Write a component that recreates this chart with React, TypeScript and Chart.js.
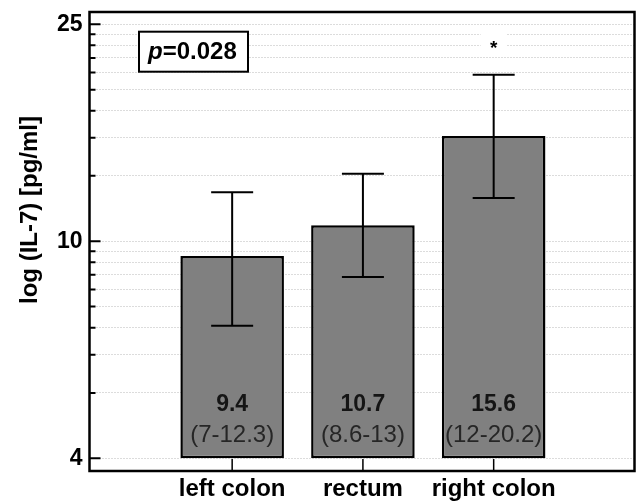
import React, { useEffect, useRef } from "react";
import { Chart, registerables } from "chart.js";

Chart.register(...registerables);

const categories = ["left colon", "rectum", "right colon"];
const medians = [9.4, 10.7, 15.6];
const lowerBounds = [7, 8.6, 12];
const upperBounds = [12.3, 13.3, 20.2];
const rangeLabels = ["(7-12.3)", "(8.6-13)", "(12-20.2)"];
const barBase = 4;
const yMajorTicks = [4, 10, 25];
const yMinorTicks = [5.27, 6.19, 6.94, 7.59, 8.16, 8.68, 9.15, 9.59, 13.18, 15.48, 17.36, 18.97, 20.4, 21.69, 22.88, 23.98];
const yAxisTitle = "log (IL-7) [pg/ml]";
const pValueText = "=0.028";
const significantIndex = 2;

const FONT = '"Liberation Sans", Arial, sans-serif';

const overlayPlugin = {
  id: "overlay",
  afterDatasetsDraw(chart: any) {
    const ctx = chart.ctx;
    const ys = chart.scales.y;
    const meta = chart.getDatasetMeta(0);
    ctx.save();
    // error bars
    ctx.strokeStyle = "#000";
    ctx.lineWidth = 2;
    meta.data.forEach((bar: any, i: number) => {
      const x = bar.x;
      const yl = ys.getPixelForValue(lowerBounds[i]);
      const yh = ys.getPixelForValue(upperBounds[i]);
      ctx.beginPath();
      ctx.moveTo(x, yl);
      ctx.lineTo(x, yh);
      ctx.moveTo(x - 21, yh);
      ctx.lineTo(x + 21, yh);
      ctx.moveTo(x - 21, yl);
      ctx.lineTo(x + 21, yl);
      ctx.stroke();
    });
    // bar labels
    const baseY = ys.getPixelForValue(barBase);
    ctx.textAlign = "center";
    ctx.textBaseline = "alphabetic";
    meta.data.forEach((bar: any, i: number) => {
      ctx.fillStyle = "#151515";
      ctx.font = `bold 23px ${FONT}`;
      ctx.fillText(String(medians[i]), bar.x, baseY - 47);
      ctx.fillStyle = "#262626";
      ctx.font = `24px ${FONT}`;
      ctx.fillText(rangeLabels[i], bar.x, baseY - 16);
    });
    ctx.restore();
  },
  afterDraw(chart: any) {
    const ctx = chart.ctx;
    const { left, right, top, bottom } = chart.chartArea;
    const ys = chart.scales.y;
    const xs = chart.scales.x;
    ctx.save();
    // frame
    ctx.strokeStyle = "#000";
    ctx.lineWidth = 2.5;
    ctx.strokeRect(left, top, right - left, bottom - top);
    // y ticks (inward)
    ctx.lineWidth = 2;
    ctx.beginPath();
    yMajorTicks.forEach((v) => {
      const y = ys.getPixelForValue(v);
      ctx.moveTo(left, y);
      ctx.lineTo(left + 11, y);
    });
    yMinorTicks.forEach((v) => {
      const y = ys.getPixelForValue(v);
      ctx.moveTo(left, y);
      ctx.lineTo(left + 6, y);
    });
    ctx.stroke();
    // x ticks (inward)
    ctx.lineWidth = 1.5;
    ctx.beginPath();
    categories.forEach((_, i) => {
      const x = xs.getPixelForValue(i);
      ctx.moveTo(x, bottom);
      ctx.lineTo(x, bottom - 12);
    });
    ctx.stroke();
    // y title
    ctx.save();
    ctx.translate(30, 210);
    ctx.rotate(-Math.PI / 2);
    ctx.fillStyle = "#000";
    ctx.font = `bold 24px ${FONT}`;
    ctx.textAlign = "center";
    ctx.textBaseline = "middle";
    ctx.fillText(yAxisTitle, 0, 0);
    ctx.restore();
    // p value box
    const bx = left + 49.5;
    const by = top + 19.7;
    const bw = 109;
    const bh = 40;
    ctx.fillStyle = "#fff";
    ctx.fillRect(bx, by, bw, bh);
    ctx.lineWidth = 2;
    ctx.strokeStyle = "#000";
    ctx.strokeRect(bx, by, bw, bh);
    ctx.fillStyle = "#000";
    ctx.textAlign = "left";
    ctx.textBaseline = "alphabetic";
    ctx.font = `italic bold 24px ${FONT}`;
    const px = bx + 9;
    const py = by + 27;
    ctx.fillText("p", px, py);
    const pw = ctx.measureText("p").width;
    ctx.font = `bold 24px ${FONT}`;
    ctx.fillText(pValueText, px + pw, py);
    // asterisk
    const sx = xs.getPixelForValue(significantIndex);
    ctx.fillStyle = "#fff";
    ctx.fillRect(sx - 13, top + 17, 26, 24);
    ctx.fillStyle = "#000";
    ctx.font = `bold 19px ${FONT}`;
    ctx.textAlign = "center";
    ctx.fillText("*", sx, top + 42);
    ctx.restore();
  },
};

export default function App() {
  const canvasRef = useRef<HTMLCanvasElement | null>(null);

  useEffect(() => {
    document.body.style.margin = "0";
    const canvas = canvasRef.current;
    if (!canvas) return;
    const chart = new Chart(canvas, {
      type: "bar",
      data: {
        datasets: [
          {
            data: categories.map((_, i) => ({ x: i, y: [barBase, medians[i]] })) as any,
            backgroundColor: "#808080",
            borderColor: "#000",
            borderWidth: 2.5,
            borderSkipped: false,
            barPercentage: 0.792,
            categoryPercentage: 1,
          },
        ],
      },
      options: {
        animation: false,
        responsive: false,
        devicePixelRatio: 1,
        layout: { padding: { top: 12, right: 1.5, left: 0, bottom: 0 } },
        plugins: { legend: { display: false }, tooltip: { enabled: false }, title: { display: false } },
        scales: {
          x: {
            type: "linear",
            min: -1.091,
            max: 3.077,
            offset: false,
            grid: { display: false, drawTicks: false },
            border: { display: false },
            ticks: {
              autoSkip: false,
              maxRotation: 0,
              padding: 4,
              color: "#000",
              font: { family: FONT, size: 24, weight: "bold" },
              callback: (v: any) => categories[v] ?? "",
            },
            afterBuildTicks: (axis: any) => {
              axis.ticks = categories.map((_, i) => ({ value: i }));
            },
            afterFit: (axis: any) => {
              axis.height = 30;
              axis.paddingLeft = 0;
              axis.paddingRight = 0;
            },
          },
          y: {
            type: "logarithmic",
            min: 3.79,
            max: 26.33,
            grid: { color: "#dcdcdc", lineWidth: 1, drawTicks: false },
            border: { display: false, dash: [2, 1] },
            ticks: {
              autoSkip: false,
              padding: 7,
              color: "#000",
              font: { family: FONT, size: 23, weight: "bold" },
              callback: (v: any) => (yMajorTicks.includes(Number(v)) ? String(v) : ""),
            },
            afterBuildTicks: (axis: any) => {
              axis.ticks = [...yMajorTicks, ...yMinorTicks].sort((a, b) => a - b).map((v) => ({ value: v }));
            },
            afterFit: (axis: any) => {
              axis.width = 89.5;
              axis.paddingTop = 0;
              axis.paddingBottom = 0;
            },
          },
        },
      },
      plugins: [overlayPlugin],
    });
    return () => chart.destroy();
  }, []);

  return (
    <div style={{ position: "fixed", left: 0, top: 0, width: 636, height: 501, background: "#fff" }}>
      <canvas ref={canvasRef} width={636} height={501} />
    </div>
  );
}
